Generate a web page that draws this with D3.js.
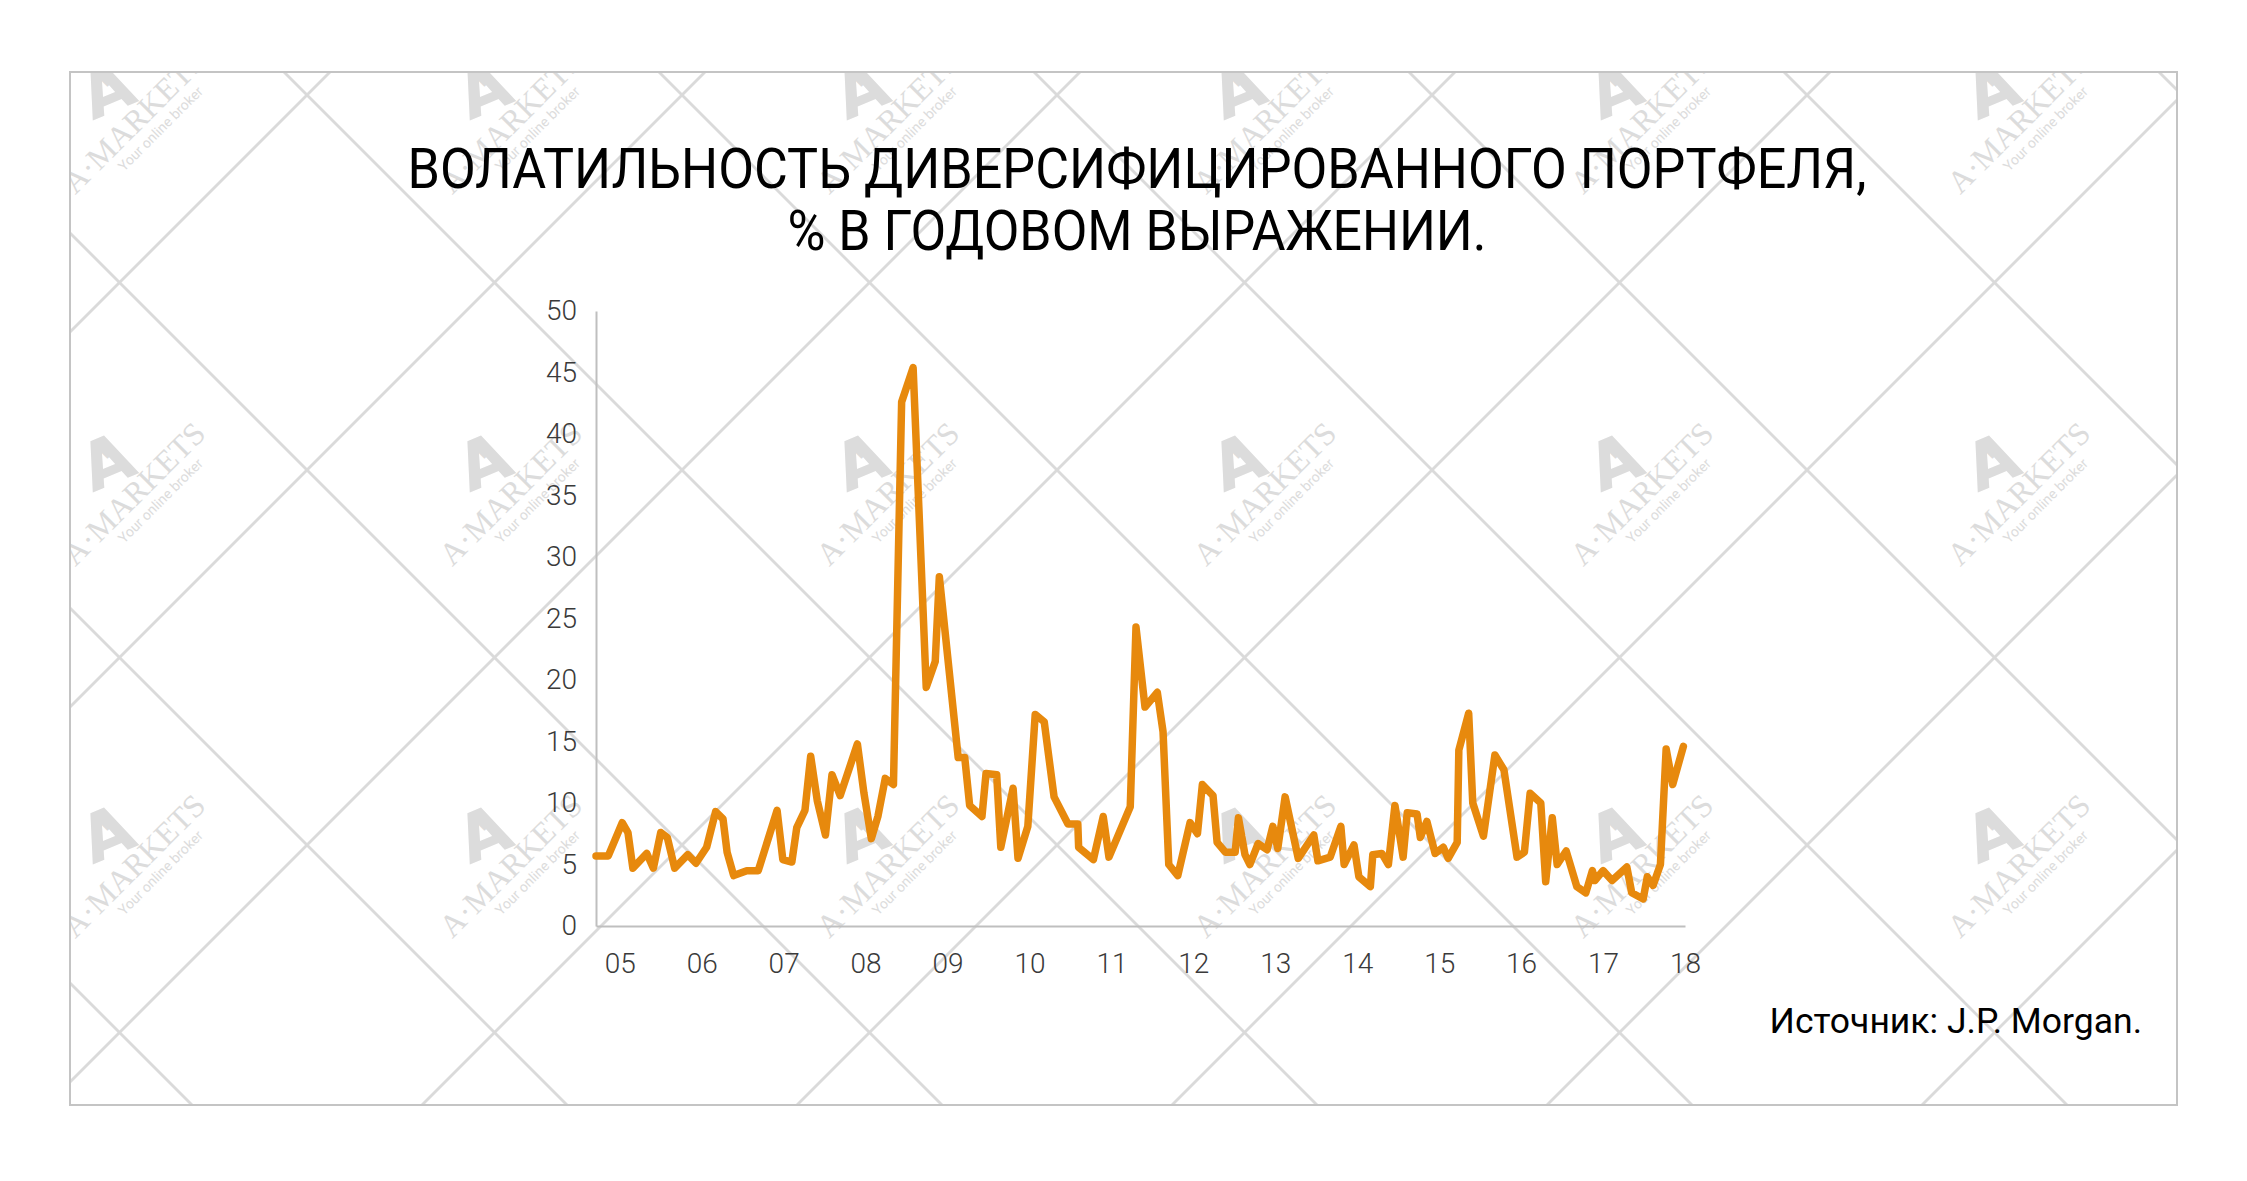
<!DOCTYPE html>
<html>
<head>
<meta charset="utf-8">
<script src="https://cdn.jsdelivr.net/npm/d3@7"></script>
<style>
  html, body { margin: 0; padding: 0; background: #fff; }
  svg { display: block; }
</style>
</head>
<body>
<svg id="chart" width="2247" height="1181"></svg>
<script>
// ---- data ----
const titleLines = ["ВОЛАТИЛЬНОСТЬ ДИВЕРСИФИЦИРОВАННОГО ПОРТФЕЛЯ,", "% В ГОДОВОМ ВЫРАЖЕНИИ."];
const sourceText = "Источник: J.P. Morgan.";
const yTicks = [0, 5, 10, 15, 20, 25, 30, 35, 40, 45, 50];
const xTickYears = [2005, 2006, 2007, 2008, 2009, 2010, 2011, 2012, 2013, 2014, 2015, 2016, 2017, 2018];
const xTickLabels = ["05", "06", "07", "08", "09", "10", "11", "12", "13", "14", "15", "16", "17", "18"];
// time (decimal year) and volatility (% annualised)
const times = [
  2004.71, 2004.86, 2005.03, 2005.10, 2005.16, 2005.33, 2005.41, 2005.50, 2005.58, 2005.67,
  2005.83, 2005.93, 2006.06, 2006.17, 2006.26, 2006.31, 2006.39, 2006.55, 2006.69, 2006.92,
  2006.99, 2007.10, 2007.16, 2007.26, 2007.33, 2007.41, 2007.51, 2007.59, 2007.69, 2007.90,
  2007.98, 2008.07, 2008.15, 2008.24, 2008.34, 2008.44, 2008.58, 2008.74, 2008.85, 2008.90,
  2009.13, 2009.21, 2009.27, 2009.42, 2009.47, 2009.60, 2009.65, 2009.80, 2009.86, 2009.98,
  2010.07, 2010.18, 2010.30, 2010.47, 2010.59, 2010.60, 2010.78, 2010.90, 2010.97, 2011.23,
  2011.30, 2011.41, 2011.56, 2011.63, 2011.70, 2011.81, 2011.96, 2012.05, 2012.11, 2012.24,
  2012.29, 2012.39, 2012.51, 2012.55, 2012.63, 2012.69, 2012.79, 2012.90, 2012.97, 2013.03,
  2013.12, 2013.28, 2013.47, 2013.52, 2013.67, 2013.80, 2013.84, 2013.96, 2014.02, 2014.16,
  2014.19, 2014.30, 2014.38, 2014.46, 2014.56, 2014.61, 2014.73, 2014.77, 2014.85, 2014.95,
  2015.05, 2015.11, 2015.22, 2015.24, 2015.36, 2015.41, 2015.54, 2015.68, 2015.79, 2015.95,
  2016.04, 2016.11, 2016.24, 2016.30, 2016.38, 2016.44, 2016.55, 2016.68, 2016.79, 2016.87,
  2016.90, 2017.00, 2017.11, 2017.29, 2017.35, 2017.49, 2017.54, 2017.61, 2017.70, 2017.77,
  2017.85, 2017.98
];
const volatility = [
  5.7, 5.7, 8.4, 7.6, 4.7, 5.9, 4.7, 7.6, 7.2, 4.7,
  5.8, 5.1, 6.4, 9.3, 8.7, 6.0, 4.1, 4.5, 4.5, 9.4,
  5.4, 5.2, 8.0, 9.4, 13.8, 10.2, 7.4, 12.3, 10.6, 14.8,
  10.8, 7.1, 8.9, 12.0, 11.5, 42.6, 45.4, 19.4, 21.5, 28.4,
  13.7, 13.7, 9.8, 8.9, 12.4, 12.3, 6.4, 11.2, 5.5, 8.1,
  17.2, 16.6, 10.5, 8.3, 8.3, 6.4, 5.4, 8.9, 5.6, 9.7,
  24.3, 17.8, 19.0, 15.8, 5.0, 4.1, 8.4, 7.5, 11.5, 10.6,
  6.8, 6.0, 6.0, 8.8, 5.8, 5.0, 6.7, 6.2, 8.1, 6.3,
  10.5, 5.5, 7.4, 5.3, 5.6, 8.1, 5.0, 6.6, 4.0, 3.2,
  5.8, 5.9, 5.0, 9.8, 5.6, 9.2, 9.1, 7.2, 8.5, 5.9,
  6.4, 5.5, 6.8, 14.3, 17.3, 10.0, 7.3, 13.9, 12.7, 5.6,
  6.0, 10.8, 10.0, 3.6, 8.8, 5.0, 6.1, 3.2, 2.7, 4.5,
  3.7, 4.5, 3.7, 4.8, 2.7, 2.2, 4.0, 3.3, 5.0, 14.4,
  11.5, 14.6
];

// ---- layout ----
const W = 2247, H = 1181;
const frame = { x: 70, y: 72, w: 2107, h: 1033 };
const plot = { left: 596, right: 1685, top: 311, bottom: 926 };

const svg = d3.select("#chart");
svg.append("rect").attr("width", W).attr("height", H).attr("fill", "#fff");

// ---- watermark background ----
const defs = svg.append("defs");
defs.append("clipPath").attr("id", "frameClip")
  .append("rect").attr("x", frame.x).attr("y", frame.y).attr("width", frame.w).attr("height", frame.h);

const wm = svg.append("g").attr("clip-path", "url(#frameClip)");
const period = 375;
const diagA = d3.range(-2, 12).map(n => 402 + period * n);   // x + y = c
const diagB = d3.range(-4, 9).map(n => 212 + period * n);    // x - y = c
wm.selectAll("line.a").data(diagA).join("line")
  .attr("x1", c => c).attr("y1", 0).attr("x2", c => c - 1300).attr("y2", 1300)
  .attr("stroke", "#dadada").attr("stroke-width", 2.8);
wm.selectAll("line.b").data(diagB).join("line")
  .attr("x1", c => c).attr("y1", 0).attr("x2", c => c + 1300).attr("y2", 1300)
  .attr("stroke", "#dadada").attr("stroke-width", 2.8);

const logoPos = [];
for (let j = 0; j < 3; j++) for (let i = 0; i < 6; i++) logoPos.push([130 + 377 * i, 118 + 372 * j]);
const logos = wm.selectAll("g.logo").data(logoPos).join("g")
  .attr("transform", d => `translate(${d[0]},${d[1]}) rotate(-45)`)
  .attr("fill", "#dcdcdc");
logos.append("text").attr("x", -10).attr("y", -12).attr("text-anchor", "middle")
  .attr("font-family", "DejaVu Sans, sans-serif").attr("font-weight", "bold")
  .attr("font-size", 66).attr("transform", "rotate(22)").text("A");
logos.append("text").attr("x", 8).attr("y", -38).attr("text-anchor", "middle")
  .attr("font-family", "DejaVu Sans, sans-serif").attr("font-weight", "bold")
  .attr("font-size", 32).text("+");
logos.append("text").attr("x", 0).attr("y", 16).attr("text-anchor", "middle")
  .attr("font-family", "Liberation Serif, serif").attr("font-size", 32)
  .text("A·MARKETS");
logos.append("text").attr("x", 14).attr("y", 34).attr("text-anchor", "middle")
  .attr("font-family", "Roboto, sans-serif").attr("font-size", 14)
  .text("Your online broker");

// frame
svg.append("rect").attr("x", frame.x).attr("y", frame.y).attr("width", frame.w).attr("height", frame.h)
  .attr("fill", "none").attr("stroke", "#c4c4c4").attr("stroke-width", 2);

// ---- title ----
const titleWidths = [1459, 699];
svg.append("g").selectAll("text").data(titleLines).join("text")
  .attr("x", 1137).attr("y", (d, i) => 188 + i * 62)
  .attr("text-anchor", "middle")
  .attr("font-family", "Roboto, sans-serif").attr("font-size", 55)
  .attr("textLength", (d, i) => titleWidths[i]).attr("lengthAdjust", "spacingAndGlyphs")
  .attr("fill", "#000").text(d => d);

// ---- scales & axes ----
const x = d3.scaleLinear().domain([2004.71, 2018]).range([plot.left, plot.right]);
const y = d3.scaleLinear().domain([0, 50]).range([plot.bottom, plot.top]);

const yAxis = d3.axisLeft(y).tickValues(yTicks).tickSize(0).tickSizeOuter(0).tickPadding(19);
const gy = svg.append("g").attr("transform", `translate(${plot.left},0)`).call(yAxis);
gy.select(".domain").attr("stroke", "#bfbfbf").attr("stroke-width", 2);
gy.selectAll("text").attr("font-family", "Roboto, sans-serif").attr("font-weight", 300)
  .attr("font-size", 28).attr("fill", "#3a3a3a");

const xAxis = d3.axisBottom(x).tickValues(xTickYears).tickSize(0).tickSizeOuter(0).tickPadding(27)
  .tickFormat((d, i) => xTickLabels[i]);
const gx = svg.append("g").attr("transform", `translate(0,${plot.bottom})`).call(xAxis);
gx.select(".domain").attr("stroke", "#bfbfbf").attr("stroke-width", 2);
gx.selectAll("text").attr("font-family", "Roboto, sans-serif").attr("font-weight", 300)
  .attr("font-size", 28).attr("fill", "#3a3a3a");

// ---- line ----
const series = times.map((t, i) => ({ t, v: volatility[i] }));
const line = d3.line().x(d => x(d.t)).y(d => y(d.v));
svg.append("path").datum(series)
  .attr("d", line)
  .attr("fill", "none").attr("stroke", "#E7890D").attr("stroke-width", 7.5)
  .attr("stroke-linejoin", "round").attr("stroke-linecap", "round");

// ---- source ----
svg.append("text").attr("x", 2142).attr("y", 1033).attr("text-anchor", "end")
  .attr("font-family", "Roboto, sans-serif").attr("font-size", 35.5).attr("fill", "#000")
  .text(sourceText);
</script>
</body>
</html>
